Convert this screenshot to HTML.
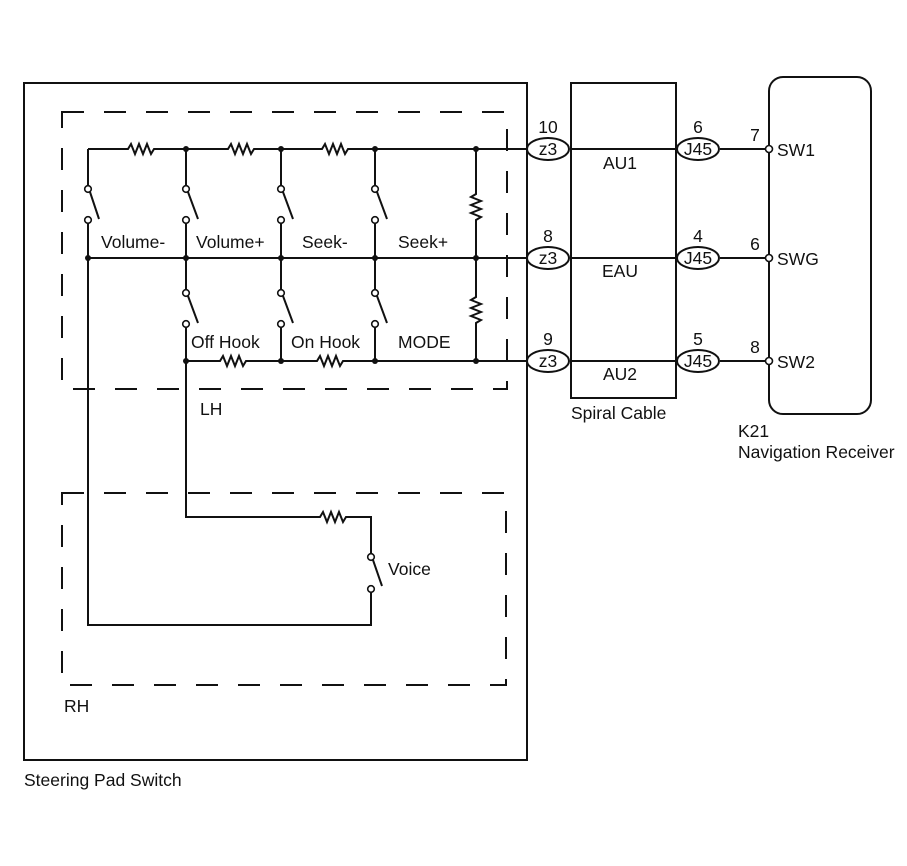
<!DOCTYPE html>
<html><head><meta charset="utf-8"><style>
html,body{margin:0;padding:0;background:#fff;}
svg{display:block;}
text{font-family:"Liberation Sans",sans-serif;font-size:17.5px;fill:#111;}
</style></head><body>
<svg width="907" height="866" viewBox="0 0 907 866" xmlns="http://www.w3.org/2000/svg">
<g stroke="#111" stroke-width="2" fill="none">
<rect x="24" y="83" width="503" height="677"/>
<rect x="62" y="112" width="445" height="277" stroke-dasharray="22,20"/>
<rect x="62" y="493" width="444" height="192" stroke-dasharray="22,20"/>
<rect x="571" y="83" width="105" height="315"/>
<rect x="769" y="77" width="102" height="337" rx="14"/>

<path d="M88 149 H128 l3 -5 l4 10 l4 -10 l4 10 l4 -10 l4 10 l3 -5 H228 l3 -5 l4 10 l4 -10 l4 10 l4 -10 l4 10 l3 -5 H322 l3 -5 l4 10 l4 -10 l4 10 l4 -10 l4 10 l3 -5 H527"/>
<path d="M88 258 H527"/>
<path d="M186 361 H220 l3 -5 l4 10 l4 -10 l4 10 l4 -10 l4 10 l3 -5 H317 l3 -5 l4 10 l4 -10 l4 10 l4 -10 l4 10 l3 -5 H527"/>
<path d="M476 149 V194 l-5 3 l10 4 l-10 4 l10 4 l-10 4 l10 4 l-5 3 V297 l-5 3 l10 4 l-10 4 l10 4 l-10 4 l10 4 l-5 3 V361"/>
<path d="M88 149 V186 M88 223 V258"/>
<path d="M186 149 V186 M186 223 V258"/>
<path d="M281 149 V186 M281 223 V258"/>
<path d="M375 149 V186 M375 223 V258"/>
<path d="M90 192 L99 219 M188 192 L198 219 M283 192 L293 219 M377 192 L387 219"/>
<path d="M186 258 V290 M186 327 V361"/>
<path d="M281 258 V290 M281 327 V361"/>
<path d="M375 258 V290 M375 327 V361"/>
<path d="M188 296 L198 323 M283 296 L293 323 M377 296 L387 323"/>
<path d="M88 258 V625 H371 V592"/>
<path d="M186 361 V517 H320 l3 -5 l4 10 l4 -10 l4 10 l4 -10 l4 10 l3 -5 H371 V554"/>
<path d="M373 560 L382 586"/>
<path d="M570 149 H676 M570 258 H676 M570 361 H676"/>
<path d="M720 149 H766 M720 258 H766 M720 361 H766"/>
<ellipse cx="548" cy="149" rx="21" ry="11" fill="#fff"/>
<ellipse cx="548" cy="258" rx="21" ry="11" fill="#fff"/>
<ellipse cx="548" cy="361" rx="21" ry="11" fill="#fff"/>
<ellipse cx="698" cy="149" rx="21" ry="11" fill="#fff"/>
<ellipse cx="698" cy="258" rx="21" ry="11" fill="#fff"/>
<ellipse cx="698" cy="361" rx="21" ry="11" fill="#fff"/>
</g>
<g stroke="#111" stroke-width="1.6" fill="#fff">
<circle cx="88" cy="189" r="3.3"/><circle cx="88" cy="220" r="3.3"/>
<circle cx="186" cy="189" r="3.3"/><circle cx="186" cy="220" r="3.3"/>
<circle cx="281" cy="189" r="3.3"/><circle cx="281" cy="220" r="3.3"/>
<circle cx="375" cy="189" r="3.3"/><circle cx="375" cy="220" r="3.3"/>
<circle cx="186" cy="293" r="3.3"/><circle cx="186" cy="324" r="3.3"/>
<circle cx="281" cy="293" r="3.3"/><circle cx="281" cy="324" r="3.3"/>
<circle cx="375" cy="293" r="3.3"/><circle cx="375" cy="324" r="3.3"/>
<circle cx="371" cy="557" r="3.3"/><circle cx="371" cy="589" r="3.3"/>
<circle cx="769" cy="149" r="3.5"/><circle cx="769" cy="258" r="3.5"/><circle cx="769" cy="361" r="3.5"/>
</g>
<g fill="#111">
<circle cx="186" cy="149" r="3"/><circle cx="281" cy="149" r="3"/><circle cx="375" cy="149" r="3"/><circle cx="476" cy="149" r="3"/>
<circle cx="88" cy="258" r="3"/><circle cx="186" cy="258" r="3"/><circle cx="281" cy="258" r="3"/><circle cx="375" cy="258" r="3"/><circle cx="476" cy="258" r="3"/>
<circle cx="186" cy="361" r="3"/><circle cx="281" cy="361" r="3"/><circle cx="375" cy="361" r="3"/><circle cx="476" cy="361" r="3"/>
</g>
<text x="101" y="248">Volume-</text>
<text x="196" y="248">Volume+</text>
<text x="302" y="248">Seek-</text>
<text x="398" y="248">Seek+</text>
<text x="191" y="348">Off Hook</text>
<text x="291" y="348">On Hook</text>
<text x="398" y="348">MODE</text>
<text x="200" y="415">LH</text>
<text x="388" y="575">Voice</text>
<text x="64" y="712">RH</text>
<text x="24" y="786">Steering Pad Switch</text>

<g text-anchor="middle">
<text x="548" y="133">10</text><text x="548" y="242">8</text><text x="548" y="345">9</text>
<text x="548" y="155">z3</text><text x="548" y="264">z3</text><text x="548" y="367">z3</text>
<text x="698" y="133">6</text><text x="698" y="242">4</text><text x="698" y="345">5</text>
<text x="698" y="155">J45</text><text x="698" y="264">J45</text><text x="698" y="367">J45</text>
<text x="620" y="169">AU1</text><text x="620" y="277">EAU</text><text x="620" y="380">AU2</text>
<text x="755" y="141">7</text><text x="755" y="250">6</text><text x="755" y="353">8</text>
</g>
<text x="777" y="156">SW1</text>
<text x="777" y="265">SWG</text>
<text x="777" y="368">SW2</text>
<text x="571" y="419">Spiral Cable</text>
<text x="738" y="437">K21</text>
<text x="738" y="458">Navigation Receiver</text>
</svg>
</body></html>
